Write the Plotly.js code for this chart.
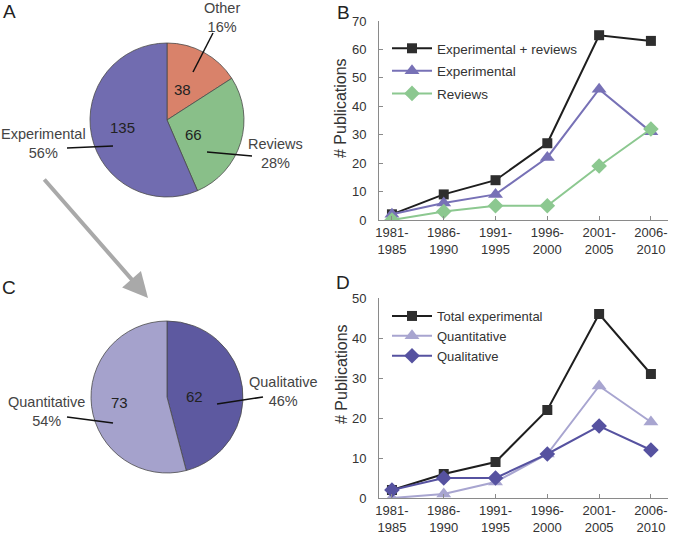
<!DOCTYPE html>
<html>
<head>
<meta charset="utf-8">
<script src="https://cdn.plot.ly/plotly-3.0.1.min.js"></script>
<style>html,body{margin:0;padding:0;background:#fff}#chart{width:677px;height:535px}</style>
</head>
<body>
<div id="chart"></div>
<script>
// ---- data ----
const pieALabels = ['Other', 'Reviews', 'Experimental'];
const pieAValues = [38, 66, 135];
const pieAColors = ['#d9826a', '#89bf89', '#716cb0'];

const pieCLabels = ['Qualitative', 'Quantitative'];
const pieCValues = [62, 73];
const pieCColors = ['#5d59a0', '#a5a2cc'];

const periods = ['1981-1985', '1986-1990', '1991-1995', '1996-2000', '2001-2005', '2006-2010'];

const expPlusReviews = [2, 9, 14, 27, 65, 63];
const experimental   = [2, 6, 9, 22, 46, 31];
const reviews        = [0, 3, 5, 5, 19, 32];

const totalExperimental = [2, 6, 9, 22, 46, 31];
const quantitative      = [0, 1, 4, 11, 28, 19];
const qualitative       = [2, 5, 5, 11, 18, 12];

// ---- layout helpers ----
const W = 677, H = 535;
const px = x => x / W;
const py = y => 1 - y / H;
const FONT = '"Liberation Sans", Arial, sans-serif';
const tickText = periods.map(p => p.replace('-', '-<br>'));

const traces = [];
traces.push({
  type: 'pie', labels: pieALabels, values: pieAValues, sort: false,
  direction: 'clockwise', rotation: 0, textinfo: 'none', hoverinfo: 'none',
  marker: {colors: pieAColors, line: {color: '#4a4a4a', width: 0.8}},
  domain: {x: [px(90), px(244)], y: [py(197), py(43)]}, showlegend: false
});
traces.push({
  type: 'pie', labels: pieCLabels, values: pieCValues, sort: false,
  direction: 'clockwise', rotation: 0, textinfo: 'none', hoverinfo: 'none',
  marker: {colors: pieCColors, line: {color: '#4a4a4a', width: 0.8}},
  domain: {x: [px(91), px(243)], y: [py(473), py(321)]}, showlegend: false
});

function lineTrace(y, name, color, symbol, size, mcolor, xa, ya, leg) {
  return {
    type: 'scatter', mode: 'lines+markers', x: periods, y: y, name: name,
    xaxis: xa, yaxis: ya, legend: leg, legendgroup: name,
    line: {color: color, width: 2},
    marker: {symbol: symbol, size: size, color: mcolor, line: {color: mcolor, width: 0}}
  };
}
traces.push(lineTrace(expPlusReviews, 'Experimental + reviews', '#1e1e1e', 'square', 10, '#2e2e2e', 'x', 'y', 'legend'));
traces.push(lineTrace(experimental, 'Experimental', '#7771b6', 'triangle-up', 13, '#7771b6', 'x', 'y', 'legend'));
traces.push(lineTrace(reviews, 'Reviews', '#8cc890', 'diamond', 12, '#8cc890', 'x', 'y', 'legend'));

traces.push(lineTrace(totalExperimental, 'Total experimental', '#1e1e1e', 'square', 10, '#2e2e2e', 'x2', 'y2', 'legend2'));
traces.push(lineTrace(quantitative, 'Quantitative', '#a8a5d0', 'triangle-up', 13, '#a8a5d0', 'x2', 'y2', 'legend2'));
traces.push(lineTrace(qualitative, 'Qualitative', '#5652a0', 'diamond', 12, '#5652a0', 'x2', 'y2', 'legend2'));

const axisCommon = {
  showgrid: false, zeroline: false, showline: true, linecolor: '#8a8a8a', linewidth: 1,
  ticks: 'inside', ticklen: 4, tickcolor: '#8a8a8a',
  tickfont: {family: FONT, size: 13, color: '#333'}, fixedrange: true
};
const xAx = dom => Object.assign({}, axisCommon, {
  domain: dom, type: 'category', range: [-0.25, 5.33],
  tickvals: periods, ticktext: tickText
});
const yAx = (dom, max, anchor) => Object.assign({}, axisCommon, {
  domain: dom, range: [0, max], dtick: 10, anchor: anchor, ticklabelstandoff: 9
});

// ---- pie labels ----
function pct(vals, i) {
  const t = vals.reduce((a, b) => a + b, 0);
  return Math.round(vals[i] / t * 100) + '%';
}
const annotations = [];
const shapes = [];
function txt(x, y, text, size, color, extra) {
  annotations.push(Object.assign({
    xref: 'paper', yref: 'paper', x: px(x), y: py(y), text: text, showarrow: false,
    xanchor: 'center', yanchor: 'middle', font: {family: FONT, size: size, color: color || '#222'}
  }, extra || {}));
}
function leader(x0, y0, x1, y1) {
  shapes.push({type: 'line', xref: 'paper', yref: 'paper', x0: px(x0), y0: py(y0), x1: px(x1), y1: py(y1),
    line: {color: '#111', width: 1.5}});
}
const LBL = '#444';
// inside values (pie A)
txt(183, 89, String(pieAValues[0]), 15);
txt(193, 135, String(pieAValues[1]), 15);
txt(122, 128, String(pieAValues[2]), 15);
// outside labels pie A
txt(222, 17, pieALabels[0] + '<br>' + pct(pieAValues, 0), 14.5, LBL);
txt(275, 153, pieALabels[1] + '<br>' + pct(pieAValues, 1), 14.5, LBL);
txt(44, 143, pieALabels[2] + '<br>' + pct(pieAValues, 2), 14.5, LBL);
leader(213, 33, 193, 72);
leader(207, 152, 252, 156);
leader(67, 148, 113, 146);
// pie C
txt(194, 396, String(pieCValues[0]), 15);
txt(119, 402, String(pieCValues[1]), 15);
txt(283, 391, pieCLabels[0] + '<br>' + pct(pieCValues, 0), 14.5, LBL);
txt(46, 411, pieCLabels[1] + '<br>' + pct(pieCValues, 1), 14.5, LBL);
leader(217, 404, 263, 397);
leader(67, 417, 113, 423);

// panel letters
txt(9, 11, 'A', 19);
txt(343, 12, 'B', 19);
txt(9, 287, 'C', 19);
txt(343, 282, 'D', 19);

// y titles
txt(341, 108, '# Publications', 16, '#333', {textangle: -90});
txt(341, 374, '# Publications', 16, '#333', {textangle: -90});

// gray arrow A -> C
annotations.push({
  xref: 'paper', yref: 'paper', x: px(148), y: py(298), axref: 'pixel', ayref: 'pixel',
  ax: 43 - 148, ay: 178 - 298, showarrow: true, text: '',
  arrowhead: 2, arrowsize: 1.25, arrowwidth: 4, arrowcolor: '#a9a9a9'
});

const legendCommon = {
  xanchor: 'left', yanchor: 'top', bgcolor: 'rgba(0,0,0,0)', borderwidth: 0, itemwidth: 40
};

const layout = {
  width: W, height: H, margin: {l: 0, r: 0, t: 0, b: 0},
  paper_bgcolor: '#fff', plot_bgcolor: 'rgba(0,0,0,0)',
  font: {family: FONT},
  xaxis: Object.assign(xAx([px(379), px(668)]), {anchor: 'y'}),
  yaxis: yAx([py(220), py(21)], 70, 'x'),
  xaxis2: Object.assign(xAx([px(379), px(668)]), {anchor: 'y2'}),
  yaxis2: yAx([py(498), py(298)], 50, 'x2'),
  legend: Object.assign({x: px(387), y: py(33), tracegroupgap: 2,
    font: {family: FONT, size: 13.5, color: '#333'}}, legendCommon),
  legend2: Object.assign({x: px(387), y: py(301), tracegroupgap: 0,
    font: {family: FONT, size: 13, color: '#333'}}, legendCommon),
  annotations: annotations, shapes: shapes
};

Plotly.newPlot('chart', traces, layout, {displayModeBar: false, staticPlot: true});
</script>
</body>
</html>
